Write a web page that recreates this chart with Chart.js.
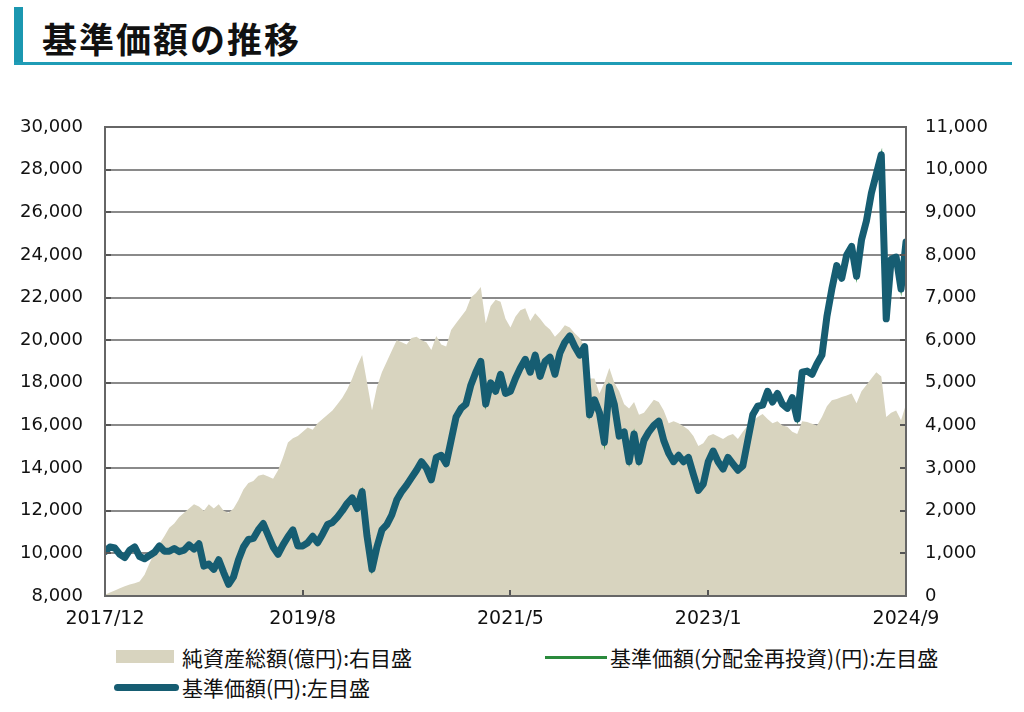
<!DOCTYPE html>
<html>
<head>
<meta charset="utf-8">
<script src="https://cdn.jsdelivr.net/npm/chart.js@4/dist/chart.umd.min.js"></script>
<style>
  body { margin: 0; width: 1024px; height: 712px; background: #fff; position: relative; overflow: hidden; font-family: "Noto Sans CJK JP", sans-serif; }
  #bar { position: absolute; left: 14px; top: 7px; width: 9px; height: 57px; background: #1b97b0; }
  #rule { position: absolute; left: 14px; top: 62px; width: 998px; height: 3px; background: #1f9cb6; }
  #title { position: absolute; left: 42px; top: 12px; font-size: 35px; font-weight: bold; color: #111; letter-spacing: 2px; }
  #wrap { position: absolute; left: 0; top: 100px; width: 1024px; height: 540px; }
  .lg { position: absolute; font-size: 21px; color: #111; line-height: 24px; white-space: nowrap; }
  .sw { position: absolute; }
</style>
</head>
<body>
<div id="bar"></div>
<div id="rule"></div>
<div id="title">基準価額の推移</div>
<div id="wrap"><canvas id="myChart"></canvas></div>

<div class="sw" style="left:116px;top:650px;width:58px;height:13px;background:#d8d4bf"></div>
<div class="lg" style="left:182px;top:645px">純資産総額(億円):右目盛</div>
<div class="sw" style="left:545px;top:656px;width:62px;height:3px;background:#2a8a3c"></div>
<div class="lg" style="left:610px;top:645px">基準価額(分配金再投資)(円):左目盛</div>
<div class="sw" style="left:114px;top:684px;width:65px;height:7px;background:#165d72;border-radius:4px"></div>
<div class="lg" style="left:182px;top:675px">基準価額(円):左目盛</div>

<script>
// half-month steps from 2017/12 to 2024/9
const tickLabels = ['2017/12', '2019/8', '2021/5', '2023/1', '2024/9'];

// 基準価額(円) - left axis
const navValues = [
  10080,10300,10250,9950,9800,10150,10300,9850,9750,9900,
  10050,10350,10100,10100,10230,10080,10150,10400,10200,10450,
  9400,9500,9250,9700,9100,8550,8900,9700,10300,10650,
  10700,11100,11400,10850,10300,9950,10400,10780,11100,10350,
  10350,10500,10800,10500,10900,11350,11450,11700,12000,12350,
  12600,12100,12900,10800,9250,10300,11100,11350,11800,12500,
  12900,13200,13550,13900,14300,14000,13450,14500,14600,14200,
  15300,16400,16800,17000,17900,18500,19000,17000,18000,17600,
  18400,17500,17600,18200,18700,19100,18500,19300,18300,19000,
  19200,18400,19400,19900,20200,19700,19300,19700,16500,17200,
  16600,15200,17800,17000,15500,15700,14300,15600,14300,15300,
  15700,16000,16200,15300,14700,14300,14600,14300,14500,13700,
  12950,13250,14300,14800,14300,13950,14500,14200,13900,14100,
  15300,16500,16900,16950,17600,17100,17500,17000,16800,17300,
  16300,18500,18550,18400,18900,19300,21100,22400,23500,22900,
  24000,24400,23000,24700,25600,26900,27800,28700,21000,23800,
  23900,22400,24600
];

// 基準価額(分配金再投資)(円) - no distributions, same as navValues
const navReinvValues = navValues.slice();

// 純資産総額(億円) - right axis
const aumValues = [
  30,80,130,180,230,270,300,340,500,770,
  1000,1220,1400,1600,1700,1850,1950,2050,2150,2100,
  2000,2150,2050,2150,2000,1950,2050,2250,2500,2650,
  2700,2820,2850,2800,2750,2950,3250,3600,3700,3750,
  3850,3950,3900,4050,4150,4250,4350,4500,4650,4850,
  5100,5400,5650,5000,4350,4900,5250,5500,5750,6000,
  5950,5900,6050,6080,6000,5950,5770,6100,5900,5850,
  6240,6400,6550,6700,7000,7100,7250,6400,6800,6950,
  6900,6500,6300,6550,6700,6750,6450,6630,6500,6350,
  6250,6080,6200,6350,6300,6160,6050,5850,5100,5100,
  4750,5000,5350,5000,4800,4500,4400,4550,4250,4300,
  4450,4600,4550,4350,4050,4100,4050,3980,3900,3750,
  3520,3580,3750,3800,3740,3680,3760,3800,3680,3850,
  4000,4100,4200,4270,4150,4050,4100,4000,3970,3850,
  3800,4100,4080,4040,4000,4200,4450,4590,4620,4670,
  4700,4750,4520,4800,4950,5100,5250,5150,4200,4300,
  4350,4120,4500
];

// months since 2017/12 for each tick label
function monthsFromStart(lbl) {
  const p = lbl.split('/');
  return (parseInt(p[0]) - 2017) * 12 + parseInt(p[1]) - 12;
}
const tickMonths = tickLabels.map(monthsFromStart);

const toPts = arr => arr.map((v, i) => ({ x: i / 2, y: v }));

const tickFont = { family: 'DejaVu Sans', size: 18 };

// frame + inward tick marks
const framePlugin = {
  id: 'frame',
  afterDatasetsDraw(chart) {
    const { ctx, chartArea: a, scales } = chart;
    ctx.save();
    ctx.strokeStyle = '#555';
    ctx.lineWidth = 2;
    ctx.beginPath();
    scales.x.ticks.forEach(t => {
      const px = Math.round(scales.x.getPixelForValue(t.value));
      ctx.moveTo(px, a.bottom); ctx.lineTo(px, a.bottom - 6);
    });
    scales.y.ticks.forEach(t => {
      const py = Math.round(scales.y.getPixelForValue(t.value));
      ctx.moveTo(a.left, py); ctx.lineTo(a.left + 6, py);
    });
    scales.y1.ticks.forEach(t => {
      const py = Math.round(scales.y1.getPixelForValue(t.value));
      ctx.moveTo(a.right, py); ctx.lineTo(a.right - 6, py);
    });
    ctx.stroke();
    ctx.strokeStyle = '#666';
    ctx.strokeRect(a.left, a.top, a.right - a.left, a.bottom - a.top);
    ctx.restore();
  }
};

const ctx = document.getElementById('myChart');
const myChart = new Chart(ctx, {
  type: 'line',
  data: {
    datasets: [
      {
        label: '基準価額(円):左目盛',
        data: toPts(navValues),
        yAxisID: 'y',
        borderColor: '#165d72',
        borderWidth: 7,
        pointRadius: 0,
        tension: 0,
        borderJoinStyle: 'round',
        borderCapStyle: 'round',
        order: 0
      },
      {
        label: '基準価額(分配金再投資)(円):左目盛',
        data: toPts(navReinvValues),
        yAxisID: 'y',
        borderColor: '#2a8a3c',
        borderWidth: 2,
        pointRadius: 0,
        order: 1
      },
      {
        label: '純資産総額(億円):右目盛',
        data: toPts(aumValues),
        yAxisID: 'y1',
        borderWidth: 0,
        borderColor: 'rgba(0,0,0,0)',
        backgroundColor: '#d8d4bf',
        fill: 'start',
        pointRadius: 0,
        order: 2
      }
    ]
  },
  options: {
    animation: false,
    responsive: true,
    maintainAspectRatio: false,
    layout: { padding: { top: 27, left: 0, right: 0, bottom: 0 } },
    plugins: { legend: { display: false }, tooltip: { enabled: false } },
    scales: {
      x: {
        type: 'linear',
        min: 0,
        max: tickMonths[tickMonths.length - 1],
        afterBuildTicks: s => { s.ticks = tickMonths.map(v => ({ value: v })); },
        afterFit: s => { s.height = 44; s.paddingLeft = 0; s.paddingRight = 0; },
        grid: { display: false, drawTicks: false },
        border: { display: false },
        ticks: {
          color: '#111',
          font: { family: 'DejaVu Sans', size: 19 },
          padding: 12,
          autoSkip: false,
          maxRotation: 0,
          callback: v => tickLabels[tickMonths.indexOf(v)]
        }
      },
      y: {
        position: 'left',
        min: 8000,
        max: 30000,
        afterFit: s => { s.width = 105; s.paddingTop = 0; s.paddingBottom = 0; },
        grid: { color: '#8a8a8a', lineWidth: 2, drawTicks: false },
        border: { display: false },
        ticks: {
          stepSize: 2000,
          color: '#111',
          font: tickFont,
          padding: 22,
          callback: v => v.toLocaleString('en-US')
        }
      },
      y1: {
        position: 'right',
        min: 0,
        max: 11000,
        afterFit: s => { s.width = 118; s.paddingTop = 0; s.paddingBottom = 0; },
        grid: { display: false, drawTicks: false },
        border: { display: false },
        ticks: {
          stepSize: 1000,
          color: '#111',
          font: tickFont,
          padding: 19,
          callback: v => v.toLocaleString('en-US')
        }
      }
    }
  },
  plugins: [framePlugin]
});
</script>
</body>
</html>
